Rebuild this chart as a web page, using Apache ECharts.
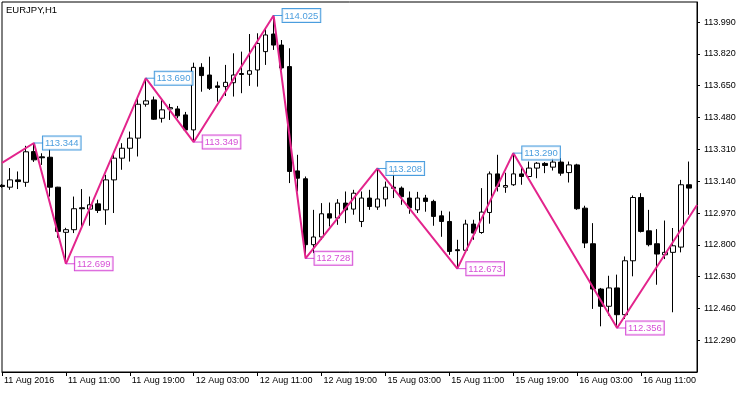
<!DOCTYPE html>
<html><head><meta charset="utf-8">
<script src="https://cdn.jsdelivr.net/npm/echarts@6/dist/echarts.min.js"></script>
<style>html,body{margin:0;padding:0;background:#fff}#c{width:750px;height:394px}</style>
</head><body><div id="c"></div>
<script>
const chartTitle = 'EURJPY,H1';
const firstLabel = '11 Aug 2016';
const dayBlocks = [['11 Aug', 3, 23], ['12 Aug', 0, 23], ['15 Aug', 0, 23], ['16 Aug', 0, 18]];
const yTicks = [112.290, 112.460, 112.630, 112.800, 112.970, 113.140, 113.310, 113.480, 113.650, 113.820, 113.990];

const open  = [113.118,113.108,113.147,113.134,113.298,113.270,113.268,113.108,112.867,112.881,
               112.998,112.991,113.019,112.987,113.147,113.263,113.316,113.370,113.551,113.574,
               113.476,113.526,113.526,113.494,113.414,113.748,113.707,113.649,113.645,113.666,
               113.715,113.711,113.734,113.832,113.926,113.867,113.752,113.195,113.153,112.801,
               112.842,112.966,112.943,113.023,112.991,112.925,113.050,113.002,113.045,113.108,
               113.103,113.050,112.987,113.050,113.032,112.955,112.925,112.774,112.771,112.911,
               112.866,112.973,113.179,113.108,113.121,113.179,113.165,113.210,113.235,113.215,
               113.242,113.186,113.227,112.996,112.806,112.564,112.472,112.570,112.427,112.715,
               113.053,112.875,112.806,112.747,112.760,112.788,113.121];
const high  = [113.125,113.210,113.192,113.329,113.344,113.289,113.311,113.110,112.891,113.058,
               113.098,113.058,113.041,113.174,113.281,113.343,113.405,113.595,113.690,113.592,
               113.574,113.553,113.542,113.510,113.773,113.770,113.805,113.672,113.761,113.823,
               113.832,113.926,113.930,113.956,114.025,113.894,113.850,113.281,113.165,112.987,
               113.023,113.026,113.044,113.085,113.094,113.085,113.094,113.208,113.138,113.201,
               113.112,113.085,113.083,113.067,113.041,112.982,112.978,112.827,112.934,112.934,
               113.103,113.192,113.281,113.185,113.290,113.211,113.245,113.242,113.242,113.263,
               113.263,113.245,113.233,113.009,112.916,112.570,112.635,112.641,112.738,113.064,
               113.076,112.987,112.884,112.930,112.890,113.147,113.245];
const low   = [113.105,113.094,113.098,113.110,113.243,113.227,113.058,112.838,112.699,112.863,
               112.890,112.902,112.970,112.907,112.970,113.201,113.245,113.272,113.538,113.467,
               113.453,113.467,113.476,113.409,113.349,113.618,113.627,113.565,113.595,113.592,
               113.610,113.649,113.645,113.761,113.841,113.734,113.130,113.085,112.728,112.756,
               112.827,112.898,112.907,112.916,112.961,112.895,112.987,112.987,113.005,113.050,
               113.014,112.966,112.970,112.977,112.902,112.843,112.747,112.673,112.763,112.827,
               112.859,112.913,113.085,113.078,113.115,113.121,113.147,113.156,113.183,113.197,
               113.169,113.133,112.987,112.783,112.458,112.365,112.422,112.356,112.404,112.632,
               112.866,112.792,112.587,112.724,112.440,112.760,112.961];
const close = [113.112,113.147,113.138,113.297,113.254,113.265,113.108,112.872,112.881,112.993,
               112.993,113.014,112.984,113.147,113.263,113.316,113.370,113.551,113.569,113.471,
               113.521,113.533,113.489,113.414,113.748,113.704,113.636,113.641,113.668,113.707,
               113.710,113.730,113.876,113.921,113.867,113.745,113.192,113.156,112.801,112.842,
               112.966,112.943,113.023,112.987,113.076,113.050,113.005,113.045,113.108,113.102,
               113.057,112.998,113.050,113.032,112.952,112.925,112.765,112.769,112.911,112.863,
               112.975,113.179,113.112,113.117,113.179,113.165,113.210,113.236,113.224,113.242,
               113.183,113.227,112.993,112.810,112.564,112.472,112.570,112.427,112.715,113.053,
               112.872,112.801,112.751,112.760,112.795,113.121,113.103];

const zigzagIndex = [0, 4, 8, 18, 24, 34, 38, 47, 57, 64, 77, 87];
const zigzagValue = [113.238, 113.344, 112.699, 113.690, 113.349, 114.025, 112.728, 113.208, 112.673, 113.290, 112.356, 113.013];
const zigzagKind  = ['', 'H', 'L', 'H', 'L', 'H', 'L', 'H', 'L', 'H', 'L', ''];

const categories = [];
dayBlocks.forEach(([d, h0, h1]) => { for (let h = h0; h <= h1; h++) categories.push(d + ' ' + String(h).padStart(2, '0') + ':00'); });

const FONT = 'Liberation Sans';
const LINE_COLOR = '#e3248c';
const HIGH_COLOR = '#1d84d6';
const LOW_COLOR = '#cc1fcc';

const candleData = open.map((o, i) => [o, close[i], low[i], high[i]]);
const zzData = categories.map(() => null);
zigzagIndex.forEach((idx, k) => { zzData[idx] = zigzagValue[k]; });

function labelSeries(kind, color) {
  const data = [];
  zigzagIndex.forEach((idx, k) => { if (zigzagKind[k] === kind) data.push([idx, zigzagValue[k]]); });
  return {
    type: 'scatter', data, symbolSize: 0, z: 10, silent: true,
    label: {
      show: true, position: 'right', distance: 0,
      formatter: p => '{l| }{b|' + p.value[1].toFixed(3) + '}',
      rich: {
        l: { width: 9, height: 1, backgroundColor: color },
        b: { color, borderColor: color, borderWidth: 1, padding: [2, 2, 1, 2], backgroundColor: '#fff', fontSize: 9.5, fontFamily: FONT }
      }
    }
  };
}

const chart = echarts.init(document.getElementById('c'), null, { renderer: 'canvas' });
chart.setOption({
  animation: false,
  backgroundColor: '#fff',
  title: { text: chartTitle, left: 6, top: 5, padding: 0, textStyle: { fontSize: 9.5, fontWeight: 'normal', color: '#000', fontFamily: FONT } },
  grid: { left: 2, right: 53, top: 2, bottom: 22, show: true, borderColor: '#000', borderWidth: 1, backgroundColor: '#fff' },
  xAxis: {
    type: 'category', data: categories, boundaryGap: false,
    axisLine: { lineStyle: { color: '#000', width: 1 } },
    axisTick: { interval: 7, length: 4, lineStyle: { color: '#000' } },
    axisLabel: { interval: 7, align: 'left', margin: 4, padding: [0, 0, 0, 2], fontSize: 9, color: '#000', fontFamily: FONT,
      formatter: (v, i) => i === 0 ? firstLabel : v },
    splitLine: { show: false }
  },
  yAxis: {
    type: 'value', position: 'right', min: 112.121, max: 114.097, scale: true,
    axisLine: { show: true, lineStyle: { color: '#000' } },
    axisTick: { show: true, length: 3, customValues: yTicks, lineStyle: { color: '#000' } },
    axisLabel: { customValues: yTicks, margin: 7, fontSize: 9, color: '#000', fontFamily: FONT, formatter: v => v.toFixed(3) },
    splitLine: { show: false }
  },
  series: [
    {
      type: 'candlestick', data: candleData, barWidth: 5,
      itemStyle: { color: '#fff', color0: '#000', borderColor: '#000', borderColor0: '#000', borderColorDoji: '#000', borderWidth: 1 }
    },
    {
      type: 'line', data: zzData, connectNulls: true, symbol: 'none', z: 5, silent: true,
      lineStyle: { color: LINE_COLOR, width: 2 }
    },
    labelSeries('H', HIGH_COLOR),
    labelSeries('L', LOW_COLOR)
  ]
});
</script></body></html>
